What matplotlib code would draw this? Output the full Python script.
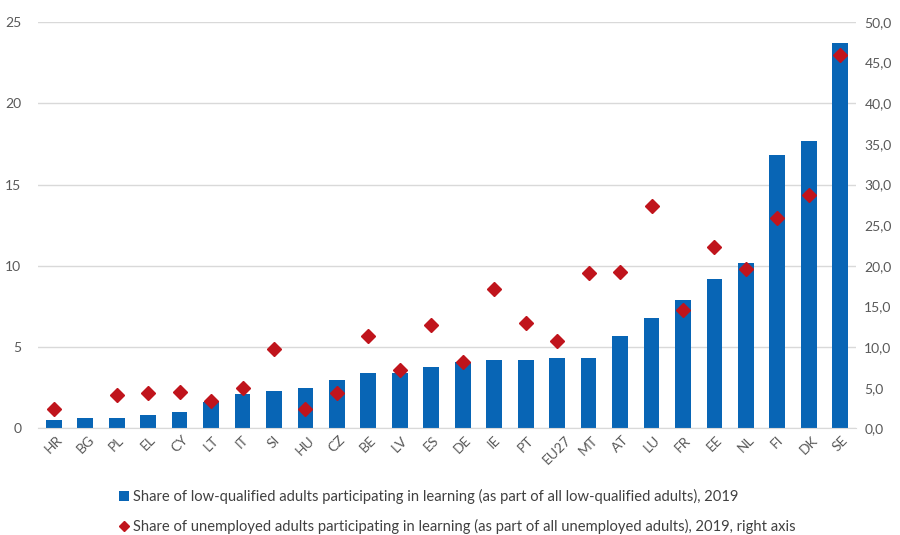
import numpy as np
import matplotlib
matplotlib.use("Agg")
from matplotlib import pyplot
from matplotlib.ticker import FuncFormatter
from matplotlib.lines import Line2D
from matplotlib.patches import Patch

countries = ["HR", "BG", "PL", "EL", "CY", "LT", "IT", "SI", "HU", "CZ", "BE", "LV", "ES",
             "DE", "IE", "PT", "EU27", "MT", "AT", "LU", "FR", "EE", "NL", "FI", "DK", "SE"]

# share of low-qualified adults in learning (left axis)
low_qualified = [0.5, 0.65, 0.65, 0.8, 1.0, 1.6, 2.1, 2.3, 2.5, 3.0, 3.4, 3.4, 3.8,
                 4.1, 4.2, 4.2, 4.3, 4.3, 5.7, 6.8, 7.9, 9.2, 10.2, 16.8, 17.7, 23.7]

# share of unemployed adults in learning (right axis), BG not available
unemployed = [2.4, np.nan, 4.1, 4.3, 4.5, 3.4, 5.0, 9.7, 2.4, 4.3, 11.3, 7.2, 12.7,
              8.2, 17.1, 12.9, 10.7, 19.1, 19.2, 27.3, 14.6, 22.3, 19.6, 25.9, 28.7, 45.9]

label_bars = "Share of low-qualified adults participating in learning (as part of all low-qualified adults), 2019"
label_markers = "Share of unemployed adults participating in learning (as part of all unemployed adults), 2019, right axis"

bar_color = "#0865B5"
marker_color = "#C0141C"
text_color = "#595959"
grid_color = "#D9D9D9"

pyplot.rcParams["font.family"] = ["Lato", "DejaVu Sans"]

fig = pyplot.figure(figsize=(9, 5.35), dpi=100)
ax = fig.add_axes([38 / 900, 1 - 428.3 / 535, 818 / 900, 406.3 / 535])
ax2 = ax.twinx()

x = np.arange(len(countries))
ax.bar(x, low_qualified, width=0.5, color=bar_color, zorder=2)
ax2.plot(x, unemployed, linestyle="none", marker="D", markersize=7,
         color=marker_color, zorder=3)

ax.set_xlim(-0.5, len(countries) - 0.5)
ax.set_ylim(0, 25)
ax.set_yticks(range(0, 26, 5))
ax2.set_ylim(0, 50)
ax2.set_yticks(range(0, 51, 5))
ax2.yaxis.set_major_formatter(FuncFormatter(lambda v, p: f"{v:.1f}".replace(".", ",")))

ax.grid(axis="y", color=grid_color, linewidth=1, zorder=0)
ax.set_axisbelow(True)

for a in (ax, ax2):
    for s in a.spines.values():
        s.set_visible(False)
    a.tick_params(length=0, colors=text_color, labelsize=10)
ax.spines["bottom"].set_visible(True)
ax.spines["bottom"].set_color(grid_color)

ax.set_xticks(x)
ax.set_xticklabels(countries, rotation=45, ha="center")
ax.tick_params(axis="x", pad=4)
ax.tick_params(axis="y", pad=12)
ax2.tick_params(axis="y", pad=6)

handles = [
    Patch(facecolor=bar_color, label=label_bars),
    Line2D([], [], linestyle="none", marker="D", markersize=5, color=marker_color, label=label_markers),
]
fig.legend(handles=handles, loc="upper left", bbox_to_anchor=(112 / 900, 1 - 482 / 535),
           frameon=False, fontsize=10.65, labelcolor="#404040", handlelength=0.65,
           handletextpad=0.3, labelspacing=0.97, borderpad=0)

fig.savefig("out.png", dpi=100)
